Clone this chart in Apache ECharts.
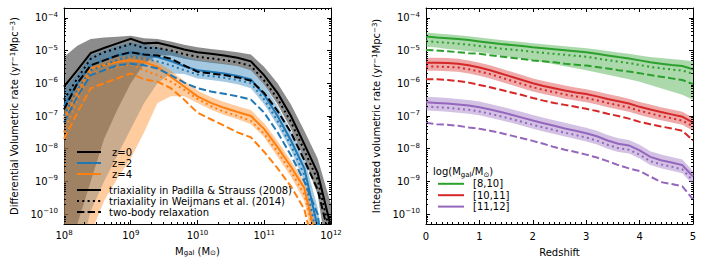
<!DOCTYPE html>
<html><head><meta charset="utf-8">
<script src="https://cdn.jsdelivr.net/npm/echarts@6/dist/echarts.min.js"></script>
<style>html,body{margin:0;padding:0;background:#fff}#c{width:706px;height:268px}</style>
</head><body><div id="c"></div><script>
// ---------- data (log10 values) ----------
const massLog = [8.0,8.2,8.4,8.6,8.8,9.0,9.2,9.4,9.6,9.8,10.0,10.2,10.4,10.6,10.8,11.0,11.2,11.4,11.6,11.8,12.0];
// z = 0
const z0_padilla  = [-6.1,-5.6,-5.08,-4.92,-4.78,-4.64,-4.78,-4.76,-4.86,-4.97,-5.05,-5.1,-5.15,-5.22,-5.33,-5.76,-6.3,-7.0,-7.86,-8.74,-10.4];
const z0_weijmans = [-6.5,-5.85,-5.25,-5.05,-4.93,-4.8,-4.92,-4.92,-5.0,-5.11,-5.19,-5.24,-5.29,-5.36,-5.47,-5.92,-6.47,-7.18,-8.05,-8.95,-10.7];
const z0_twobody  = [-6.8,-6.0,-5.45,-5.3,-5.15,-5.05,-5.12,-5.15,-5.25,-5.45,-5.65,-5.7,-5.75,-5.82,-5.92,-6.3,-6.85,-7.5,-8.35,-9.25,-10.9];
const z0_upper    = [-5.2,-4.85,-4.65,-4.6,-4.58,-4.55,-4.62,-4.65,-4.72,-4.82,-4.9,-4.95,-5.0,-5.05,-5.12,-5.5,-6.0,-6.65,-7.45,-8.3,-9.7];
const z0_lower    = [-12,-10.3,-9.0,-7.7,-6.8,-6.0,-5.4,-5.15,-5.15,-5.25,-5.32,-5.37,-5.42,-5.48,-5.6,-6.05,-6.65,-7.4,-8.3,-9.4,-12];
// z = 2
const z2_padilla  = [-6.7,-6.0,-5.45,-5.3,-5.15,-5.05,-5.12,-5.2,-5.32,-5.48,-5.6,-5.65,-5.7,-5.78,-5.88,-6.35,-7.0,-7.75,-8.6,-10.4,-13];
const z2_weijmans = [-7.0,-6.2,-5.6,-5.45,-5.28,-5.18,-5.25,-5.33,-5.45,-5.6,-5.73,-5.78,-5.83,-5.9,-6.0,-6.5,-7.15,-7.9,-8.8,-10.8,-13];
const z2_twobody  = [-7.2,-6.4,-5.75,-5.6,-5.45,-5.4,-5.45,-5.55,-5.75,-5.98,-6.15,-6.25,-6.32,-6.4,-6.5,-6.9,-7.5,-8.2,-9.0,-10.0,-13];
const z2_upper    = [-6.2,-5.7,-5.15,-5.0,-4.85,-4.75,-4.82,-4.9,-5.02,-5.18,-5.3,-5.35,-5.4,-5.48,-5.58,-6.05,-6.7,-7.45,-8.3,-9.8,-13];
const z2_lower    = [-13,-11.5,-9.9,-9.0,-8.2,-7.4,-6.6,-6.0,-5.7,-5.72,-5.85,-5.9,-5.95,-6.03,-6.15,-6.65,-7.3,-8.05,-9.0,-11,-13];
// z = 4
const z4_padilla  = [-7.1,-6.3,-5.55,-5.45,-5.35,-5.3,-5.35,-5.5,-5.8,-6.1,-6.4,-6.6,-6.75,-6.88,-7.0,-7.4,-7.95,-8.55,-9.2,-11,-13];
const z4_weijmans = [-7.5,-6.5,-5.7,-5.6,-5.5,-5.42,-5.6,-5.75,-5.95,-6.2,-6.48,-6.7,-6.87,-7.0,-7.15,-7.55,-8.1,-8.7,-9.4,-11,-13];
const z4_twobody  = [-7.7,-6.9,-6.15,-6.0,-5.85,-5.7,-5.88,-5.95,-6.15,-6.5,-6.9,-7.1,-7.3,-7.5,-7.65,-8.1,-8.6,-9.15,-9.85,-11.5,-13];
const z4_upper    = [-6.8,-6.1,-5.4,-5.3,-5.2,-5.15,-5.2,-5.35,-5.62,-5.92,-6.22,-6.42,-6.57,-6.7,-6.82,-7.22,-7.77,-8.37,-9.0,-10.5,-13];
const z4_lower    = [-14,-12.5,-10.6,-9.6,-8.9,-8.3,-7.5,-6.6,-6.4,-6.4,-6.6,-6.8,-6.97,-7.1,-7.25,-7.65,-8.25,-8.85,-9.6,-11.5,-14];

const redshift = [0,0.2,0.4,0.6,0.8,1.0,1.2,1.4,1.6,1.8,2.0,2.2,2.4,2.6,2.8,3.0,3.2,3.4,3.6,3.8,4.0,4.2,4.4,4.6,4.8,5.0];
// log(Mgal) in [8,10]
const m8_padilla  = [-4.57,-4.6,-4.62,-4.65,-4.68,-4.72,-4.76,-4.8,-4.83,-4.86,-4.9,-4.93,-4.96,-4.99,-5.02,-5.05,-5.1,-5.15,-5.2,-5.24,-5.3,-5.36,-5.4,-5.44,-5.47,-5.57];
const m8_weijmans = [-4.71,-4.74,-4.76,-4.79,-4.82,-4.86,-4.9,-4.94,-4.97,-5.0,-5.04,-5.07,-5.1,-5.13,-5.16,-5.19,-5.24,-5.29,-5.34,-5.38,-5.44,-5.5,-5.54,-5.58,-5.61,-5.71];
const m8_twobody  = [-4.98,-5.0,-5.02,-5.05,-5.08,-5.1,-5.14,-5.18,-5.22,-5.26,-5.3,-5.33,-5.36,-5.4,-5.43,-5.46,-5.5,-5.55,-5.6,-5.64,-5.69,-5.75,-5.8,-5.85,-5.9,-6.02];
const m8_upper    = [-4.45,-4.48,-4.5,-4.53,-4.56,-4.6,-4.64,-4.68,-4.71,-4.74,-4.78,-4.81,-4.84,-4.87,-4.9,-4.93,-4.97,-5.01,-5.06,-5.1,-5.15,-5.2,-5.23,-5.26,-5.29,-5.33];
const m8_lower    = [-4.88,-4.91,-4.95,-4.98,-5.02,-5.05,-5.1,-5.15,-5.2,-5.25,-5.3,-5.36,-5.42,-5.48,-5.54,-5.6,-5.67,-5.74,-5.81,-5.88,-5.95,-6.05,-6.15,-6.25,-6.35,-6.5];
// [10,11]
const m10_padilla  = [-5.37,-5.37,-5.38,-5.4,-5.45,-5.52,-5.6,-5.7,-5.8,-5.9,-6.0,-6.08,-6.15,-6.22,-6.28,-6.33,-6.4,-6.48,-6.55,-6.62,-6.72,-6.8,-6.88,-6.95,-7.02,-7.2];
const m10_weijmans = [-5.49,-5.49,-5.5,-5.52,-5.57,-5.64,-5.72,-5.82,-5.92,-6.02,-6.12,-6.2,-6.27,-6.34,-6.4,-6.45,-6.52,-6.6,-6.67,-6.74,-6.84,-6.92,-7.0,-7.07,-7.14,-7.32];
const m10_twobody  = [-5.88,-5.88,-5.9,-5.93,-5.98,-6.05,-6.12,-6.2,-6.28,-6.36,-6.45,-6.53,-6.6,-6.66,-6.72,-6.78,-6.85,-6.93,-7.0,-7.08,-7.18,-7.25,-7.32,-7.38,-7.45,-7.75];
const m10_upper    = [-5.22,-5.22,-5.23,-5.25,-5.3,-5.37,-5.45,-5.55,-5.65,-5.75,-5.85,-5.93,-6.0,-6.07,-6.13,-6.18,-6.25,-6.33,-6.4,-6.47,-6.57,-6.65,-6.73,-6.8,-6.87,-7.05];
const m10_lower    = [-5.62,-5.62,-5.63,-5.65,-5.7,-5.77,-5.85,-5.95,-6.05,-6.15,-6.25,-6.33,-6.4,-6.47,-6.53,-6.58,-6.65,-6.73,-6.8,-6.87,-6.97,-7.05,-7.13,-7.2,-7.27,-7.45];
// [11,12]
const m11_padilla  = [-6.58,-6.6,-6.62,-6.65,-6.68,-6.73,-6.8,-6.88,-6.96,-7.05,-7.14,-7.22,-7.3,-7.38,-7.45,-7.53,-7.62,-7.75,-7.85,-7.9,-8.05,-8.25,-8.35,-8.42,-8.5,-8.85];
const m11_weijmans = [-6.71,-6.73,-6.75,-6.78,-6.81,-6.86,-6.93,-7.01,-7.09,-7.18,-7.27,-7.35,-7.43,-7.51,-7.58,-7.66,-7.75,-7.88,-7.98,-8.03,-8.18,-8.38,-8.48,-8.55,-8.63,-8.98];
const m11_twobody  = [-7.21,-7.25,-7.27,-7.3,-7.35,-7.39,-7.45,-7.52,-7.6,-7.68,-7.76,-7.85,-7.95,-8.03,-8.1,-8.18,-8.27,-8.38,-8.5,-8.6,-8.68,-8.85,-9.02,-9.08,-9.15,-9.55];
const m11_upper    = [-6.41,-6.43,-6.45,-6.48,-6.51,-6.56,-6.63,-6.71,-6.79,-6.88,-6.97,-7.05,-7.13,-7.21,-7.28,-7.36,-7.45,-7.58,-7.68,-7.73,-7.88,-8.08,-8.18,-8.25,-8.33,-8.68];
const m11_lower    = [-6.83,-6.85,-6.87,-6.9,-6.93,-6.98,-7.05,-7.13,-7.21,-7.3,-7.39,-7.47,-7.55,-7.63,-7.7,-7.78,-7.87,-8.0,-8.1,-8.15,-8.3,-8.5,-8.6,-8.67,-8.75,-9.1];

const leftLegendZ = ['z=0','z=2','z=4'];
const styleLegend = ['triaxiality in Padilla & Strauss (2008)','triaxiality in Weijmans et al. (2014)','two-body relaxation'];
const rightLegend = ['[8,10]','[10,11]','[11,12]'];

// ---------- build ----------
const FONT = 'DejaVu Sans';
const P = v => Math.pow(10, v);
const BLACK='#000000', BLUE='#1f77b4', ORANGE='#ff7f0e', GREEN='#2ca02c', RED='#d62728', PURPLE='#9467bd';
const DOT=[2,3.3], DASH=[7.4,3.2];

function toPts(xs, ys, xlog){ return xs.map((x,i)=>[xlog?P(x):x, P(ys[i])]); }

function lineS(name, xs, ys, xlog, color, type, xi, yi, z){
  return {name, type:'line', data: toPts(xs, ys, xlog), xAxisIndex:xi, yAxisIndex:yi,
    symbol:'none', showSymbol:false, clip:true, silent:true, animation:false, z:z,
    lineStyle:{color, width:2, type, cap:'butt', join:'miter'}, itemStyle:{color}};
}
function bandS(xs, up, lo, xlog, fill, xi, yi, z){
  const U = toPts(xs, up, xlog), L = toPts(xs, lo, xlog);
  return {type:'custom', xAxisIndex:xi, yAxisIndex:yi, silent:true, animation:false, z:z,
    data:[U[0]],
    renderItem(params, api){
      const cs = params.coordSys;
      const pts = [];
      U.forEach(p=>pts.push(api.coord(p)));
      for(let i=L.length-1;i>=0;i--) pts.push(api.coord(L[i]));
      return {type:'polygon', shape:{points:pts}, style:{fill, stroke:null},
        clipPath:{type:'rect', shape:{x:cs.x, y:cs.y, width:cs.width, height:cs.height}}};
    }};
}
function dummy(name, color, type, width, xi, yi){
  return {name, type:'line', data:[], xAxisIndex:xi, yAxisIndex:yi, symbol:'none', showSymbol:false,
    lineStyle:{color, width, type, cap:'butt'}, itemStyle:{color}, silent:true};
}
// minor log ticks (axis decoration)
const yMinor = [], xMinorLog = [];
for(let n=-11;n<=-4;n++) for(let m=2;m<=9;m++){ const v=m*Math.pow(10,n); if(v>5e-11 && v<2e-4) yMinor.push(v); }
for(let n=8;n<=11;n++) for(let m=2;m<=9;m++) xMinorLog.push(m*Math.pow(10,n));
function tickS(xi, yi, ref, xMin, yMinorList){
  return {type:'custom', xAxisIndex:xi, yAxisIndex:yi, silent:true, animation:false, z:6, data:[ref],
    renderItem(params, api){
      const cs = params.coordSys, ch = [];
      const ls = {stroke:'#000', lineWidth:1};
      yMinorList.forEach(v=>{ const py = Math.round(api.coord([ref[0], v])[1])+0.5;
        ch.push({type:'line', shape:{x1:cs.x, y1:py, x2:cs.x+2, y2:py}, style:ls});
        ch.push({type:'line', shape:{x1:cs.x+cs.width-2, y1:py, x2:cs.x+cs.width, y2:py}, style:ls}); });
      xMin.forEach(v=>{ const px = Math.round(api.coord([v, ref[1]])[0])+0.5;
        ch.push({type:'line', shape:{x1:px, y1:cs.y+cs.height, x2:px, y2:cs.y+cs.height-2}, style:ls});
        ch.push({type:'line', shape:{x1:px, y1:cs.y, x2:px, y2:cs.y+2}, style:ls}); });
      return {type:'group', children:ch};
    }};
}

function logFmt(v){ const e=Math.log10(v), r=Math.round(e); if(Math.abs(e-r)>1e-6) return ''; return '10{sup|'+(r<0?'\u2212'+(-r):r)+'}'; }
const supRich = {sup:{fontSize:7, fontFamily:FONT, color:'#000', verticalAlign:'top', lineHeight:8}};
const subRich = {sub:{fontSize:7, fontFamily:FONT, color:'#000', verticalAlign:'bottom', lineHeight:8}};
const AL = {show:true, onZero:false, lineStyle:{color:'#000', width:1}};
const AT = {show:true, inside:true, length:4, lineStyle:{color:'#000', width:1}};
const lblBase = {fontFamily:FONT, fontSize:10, color:'#000', lineHeight:13};

function logX(grid, pos, showLabel){
  return {type:'log', gridIndex:grid, min:1e8, max:1e12, position:pos, axisLine:AL, axisTick:AT, splitLine:{show:false},
    axisLabel: showLabel ? Object.assign({formatter:logFmt, margin:5, rich:supRich}, lblBase) : {show:false}};
}
function logY(grid, pos, showLabel){
  return {type:'log', gridIndex:grid, min:5e-11, max:2e-4, position:pos, axisLine:AL, axisTick:AT, splitLine:{show:false},
    axisLabel: showLabel ? Object.assign({formatter:logFmt, margin:6, rich:supRich}, lblBase) : {show:false}};
}
function linX(grid, pos, showLabel){
  return {type:'value', gridIndex:grid, min:0, max:5, interval:1, position:pos, axisLine:AL, axisTick:AT, splitLine:{show:false},
    minorTick:{show:true, splitNumber:10, length:2, lineStyle:{color:'#000', width:1}}, minorSplitLine:{show:false},
    axisLabel: showLabel ? Object.assign({margin:6}, lblBase) : {show:false}};
}

const xA0 = logX(0,'bottom',true);
Object.assign(xA0, {name:'M{sub|gal} (M{sub|\u2299})', nameLocation:'middle', nameGap:17,
  nameTextStyle:{fontFamily:FONT, fontSize:10, color:'#000', rich:subRich}});
const yA0 = logY(0,'left',true);
Object.assign(yA0, {name:'Differential Volumetric rate (yr{sup|\u22121}Mpc{sup|\u22123})', nameLocation:'middle', nameGap:45,
  nameTextStyle:{fontFamily:FONT, fontSize:10, color:'#000', rich:supRich}});
const xA2 = linX(1,'bottom',true);
Object.assign(xA2, {name:'Redshift', nameLocation:'middle', nameGap:17, nameTextStyle:{fontFamily:FONT, fontSize:10, color:'#000'}});
const yA2 = logY(1,'left',true);
Object.assign(yA2, {name:'Integrated volumetric rate (yr{sup|\u22121}Mpc{sup|\u22123})', nameLocation:'middle', nameGap:45,
  nameTextStyle:{fontFamily:FONT, fontSize:10, color:'#000', rich:supRich}});

const series = [
  bandS(massLog, z0_upper, z0_lower, true, 'rgba(0,0,0,0.45)', 0, 0, 1),
  bandS(massLog, z2_upper, z2_lower, true, 'rgba(31,119,180,0.4)', 0, 0, 1),
  bandS(massLog, z4_upper, z4_lower, true, 'rgba(255,127,14,0.4)', 0, 0, 1),
  lineS('z4p', massLog, z4_padilla, true, ORANGE, 'solid', 0, 0, 3),
  lineS('z4w', massLog, z4_weijmans, true, ORANGE, DOT, 0, 0, 3),
  lineS('z4t', massLog, z4_twobody, true, ORANGE, DASH, 0, 0, 3),
  lineS('z2p', massLog, z2_padilla, true, BLUE, 'solid', 0, 0, 3),
  lineS('z2w', massLog, z2_weijmans, true, BLUE, DOT, 0, 0, 3),
  lineS('z2t', massLog, z2_twobody, true, BLUE, DASH, 0, 0, 3),
  lineS('z0p', massLog, z0_padilla, true, BLACK, 'solid', 0, 0, 3),
  lineS('z0w', massLog, z0_weijmans, true, BLACK, DOT, 0, 0, 3),
  lineS('z0t', massLog, z0_twobody, true, BLACK, DASH, 0, 0, 3),
  bandS(redshift, m8_upper, m8_lower, false, 'rgba(44,160,44,0.4)', 2, 2, 1),
  bandS(redshift, m10_upper, m10_lower, false, 'rgba(214,39,40,0.4)', 2, 2, 1),
  bandS(redshift, m11_upper, m11_lower, false, 'rgba(148,103,189,0.4)', 2, 2, 1),
  lineS('m8p', redshift, m8_padilla, false, GREEN, 'solid', 2, 2, 3),
  lineS('m8w', redshift, m8_weijmans, false, GREEN, DOT, 2, 2, 3),
  lineS('m8t', redshift, m8_twobody, false, GREEN, DASH, 2, 2, 3),
  lineS('m10p', redshift, m10_padilla, false, RED, 'solid', 2, 2, 3),
  lineS('m10w', redshift, m10_weijmans, false, RED, DOT, 2, 2, 3),
  lineS('m10t', redshift, m10_twobody, false, RED, DASH, 2, 2, 3),
  lineS('m11p', redshift, m11_padilla, false, PURPLE, 'solid', 2, 2, 3),
  lineS('m11w', redshift, m11_weijmans, false, PURPLE, DOT, 2, 2, 3),
  lineS('m11t', redshift, m11_twobody, false, PURPLE, DASH, 2, 2, 3),
  tickS(0, 0, [1e10, 1e-7], xMinorLog, yMinor),
  tickS(2, 2, [2, 1e-7], [], yMinor),
  dummy(leftLegendZ[0], BLACK, 'solid', 3, 0, 0),
  dummy(leftLegendZ[1], BLUE, 'solid', 3, 0, 0),
  dummy(leftLegendZ[2], ORANGE, 'solid', 3, 0, 0),
  dummy(styleLegend[0], BLACK, 'solid', 2, 0, 0),
  dummy(styleLegend[1], BLACK, DOT, 2, 0, 0),
  dummy(styleLegend[2], BLACK, DASH, 2, 0, 0),
  dummy(rightLegend[0], GREEN, 'solid', 3, 2, 2),
  dummy(rightLegend[1], RED, 'solid', 3, 2, 2),
  dummy(rightLegend[2], PURPLE, 'solid', 3, 2, 2)
];

const legTxt = {fontFamily:FONT, fontSize:10, color:'#000', lineHeight:11};
const hideSym = {opacity:0, borderWidth:0};
const option = {
  animation:false,
  backgroundColor:'#fff',
  grid:[{left:64, right:375, top:8, bottom:44}, {left:426, right:13, top:8, bottom:44}],
  xAxis:[xA0, logX(0,'top',false), xA2, linX(1,'top',false)],
  yAxis:[yA0, logY(0,'right',false), yA2, logY(1,'right',false)],
  title:{text:'log(M{sub|gal}/M{sub|\u2299})', left:433, top:165, padding:0,
    textStyle:{fontFamily:FONT, fontSize:10, fontWeight:'normal', color:'#000', lineHeight:13, rich:subRich}},
  legend:[
    {data:leftLegendZ, orient:'vertical', left:76, top:146.5, padding:0, itemWidth:24, itemHeight:11, itemGap:0,
     itemStyle:hideSym, textStyle:Object.assign({padding:[0,0,0,6]}, legTxt), selectedMode:false},
    {data:styleLegend, orient:'vertical', left:76, top:184.5, padding:0, itemWidth:24, itemHeight:11, itemGap:0,
     itemStyle:hideSym, textStyle:Object.assign({padding:[0,0,0,3]}, legTxt), selectedMode:false},
    {data:rightLegend, orient:'vertical', left:437, top:178.3, padding:0, itemWidth:26, itemHeight:12, itemGap:0.4,
     itemStyle:hideSym, textStyle:Object.assign({padding:[0,0,0,4]}, legTxt), selectedMode:false}
  ],
  series
};
const chart = echarts.init(document.getElementById('c'), null, {renderer:'svg'});
chart.setOption(option);
</script></body></html>
